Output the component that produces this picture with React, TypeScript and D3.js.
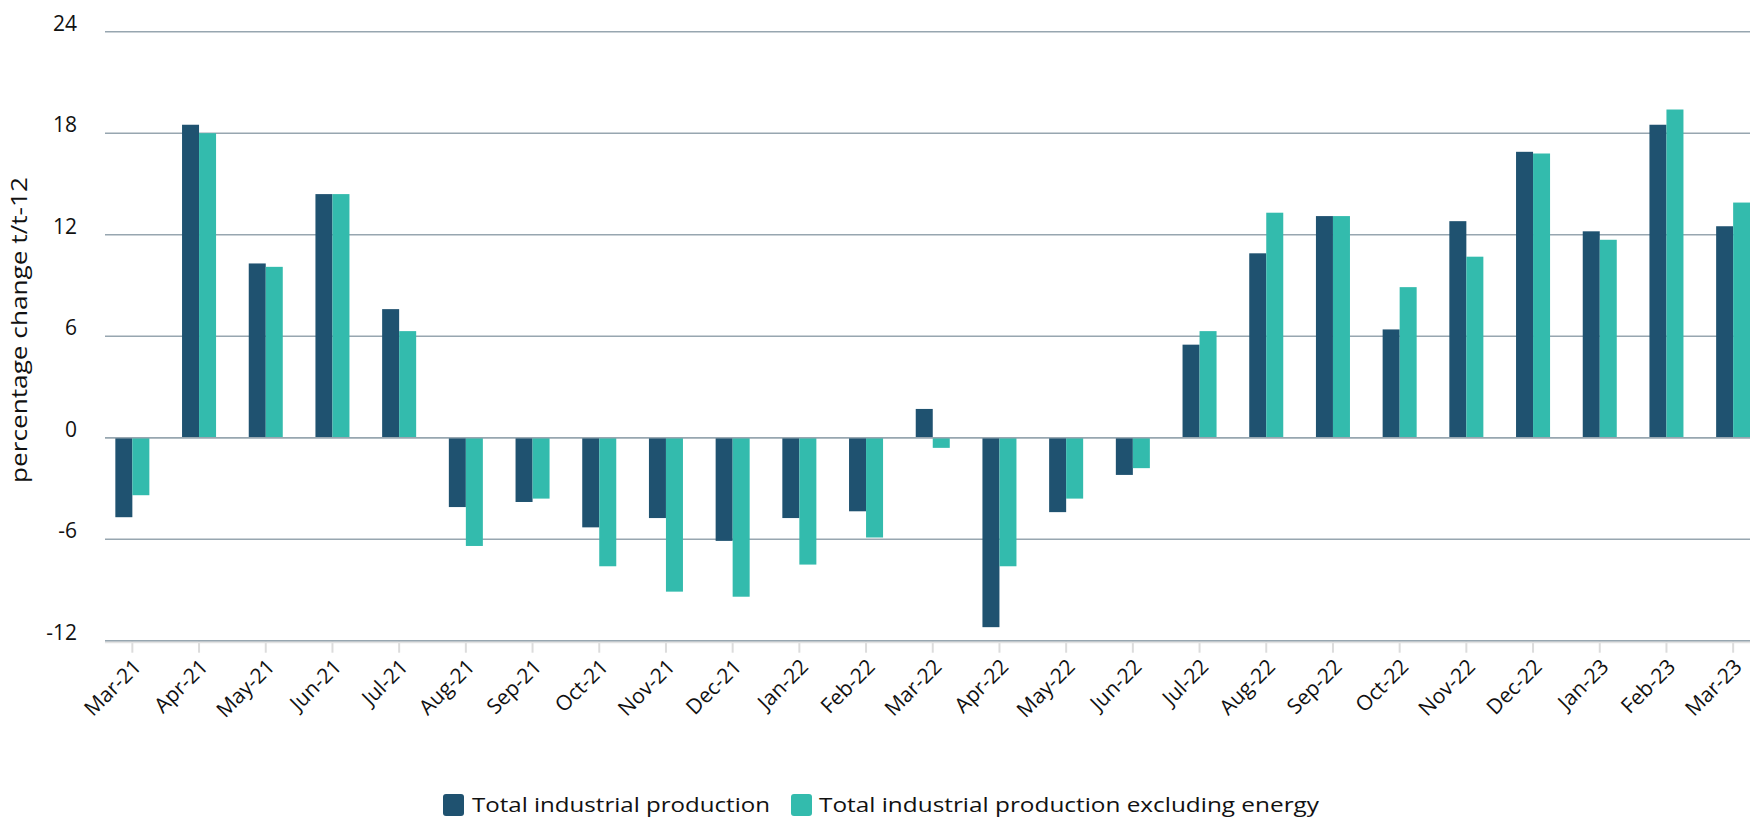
import { useMemo } from 'react';
import * as d3 from 'd3';

const W = 1750;
const H = 827;

const months = [
  'Mar-21', 'Apr-21', 'May-21', 'Jun-21', 'Jul-21', 'Aug-21', 'Sep-21', 'Oct-21', 'Nov-21',
  'Dec-21', 'Jan-22', 'Feb-22', 'Mar-22', 'Apr-22', 'May-22', 'Jun-22', 'Jul-22', 'Aug-22',
  'Sep-22', 'Oct-22', 'Nov-22', 'Dec-22', 'Jan-23', 'Feb-23', 'Mar-23',
];

const totalProduction = [
  -4.7, 18.5, 10.3, 14.4, 7.6, -4.1, -3.8, -5.3, -4.75, -6.1, -4.75, -4.35, 1.7,
  -11.2, -4.4, -2.2, 5.5, 10.9, 13.1, 6.4, 12.8, 16.9, 12.2, 18.5, 12.5,
];

const exEnergy = [
  -3.4, 18.0, 10.1, 14.4, 6.3, -6.4, -3.6, -7.6, -9.1, -9.4, -7.5, -5.9, -0.6,
  -7.6, -3.6, -1.8, 6.3, 13.3, 13.1, 8.9, 10.7, 16.8, 11.7, 19.4, 13.9,
];

const yTicks = [-12, -6, 0, 6, 12, 18, 24];

const seriesNames = ['Total industrial production', 'Total industrial production excluding energy'];
const COLORS = ['#1f5270', '#33bbad'];

const FONT = '"Open Sans", "Noto Sans", sans-serif';

export default function App() {
  const x = useMemo(
    () => d3.scaleBand<string>().domain(months).range([99, 99 + 25 * 66.7]).paddingInner(0.49).paddingOuter(0.245),
    []
  );
  const y = useMemo(() => d3.scaleLinear().domain([-12, 24]).range([640.7, 31.7]), []);
  const x1 = useMemo(
    () => d3.scaleBand<number>().domain([0, 1]).range([0, x.bandwidth()]),
    [x]
  );
  const series = [totalProduction, exEnergy];
  const gridLeft = 105;

  return (
    <div style={{ position: 'fixed', left: 0, top: 0, width: W, height: H, background: '#fff' }}>
      <svg width={W} height={H} style={{ display: 'block', fontFamily: FONT }}>
        {/* tick marks under axis */}
        {months.map(m => {
          const cx = (x(m) ?? 0) + x.bandwidth() / 2;
          return <line key={m} x1={cx} x2={cx} y1={y(-12)} y2={y(-12) + 12} stroke="#dcdcdc" strokeWidth={2} />;
        })}
        <line x1={gridLeft} x2={W} y1={y(-12) + 1.5} y2={y(-12) + 1.5} stroke="#e2e2e2" strokeWidth={2} />

        {/* gridlines */}
        {yTicks.map(t => (
          <g key={t}>
            <line x1={gridLeft} x2={W} y1={y(t)} y2={y(t)} stroke="#97a6b0" strokeWidth={1.6} />
            <text x={77} y={y(t)} dy="-0.05em" textAnchor="end" fontSize={21} fill="#111">
              {t}
            </text>
          </g>
        ))}

        {/* bars */}
        {series.map((vals, si) => (
          <g key={si} fill={COLORS[si]}>
            {vals.map((v, i) => (
              <rect
                key={i}
                x={(x(months[i]) ?? 0) + (x1(si) ?? 0)}
                width={x1.bandwidth()}
                y={y(Math.max(0, v))}
                height={Math.abs(y(v) - y(0))}
              />
            ))}
          </g>
        ))}
        <line x1={gridLeft} x2={W} y1={y(0)} y2={y(0)} stroke="#97a6b0" strokeWidth={1.6} />

        {/* x labels */}
        {months.map(m => {
          const cx = (x(m) ?? 0) + x.bandwidth() / 2;
          return (
            <text
              key={m}
              transform={`translate(${cx + 5},${y(-12) + 22}) rotate(-45)`}
              textAnchor="end"
              dy="0.35em"
              fontSize={21}
              fill="#111"
            >
              {m}
            </text>
          );
        })}

        {/* y axis title */}
        <text
          transform={`translate(27,330) rotate(-90)`}
          textAnchor="middle"
          fontSize={21}
          fill="#111"
          textLength={306}
          lengthAdjust="spacingAndGlyphs"
        >
          percentage change t/t-12
        </text>

        {/* legend */}
        <g transform="translate(443,794)">
          <rect x={0} y={0} width={21} height={22} rx={3} fill={COLORS[0]} />
          <text x={29} y={11} dy="0.35em" fontSize={20} fill="#111" textLength={298} lengthAdjust="spacingAndGlyphs">
            {seriesNames[0]}
          </text>
          <rect x={348} y={0} width={21} height={22} rx={3} fill={COLORS[1]} />
          <text x={376} y={11} dy="0.35em" fontSize={20} fill="#111" textLength={500} lengthAdjust="spacingAndGlyphs">
            {seriesNames[1]}
          </text>
        </g>
      </svg>
    </div>
  );
}
